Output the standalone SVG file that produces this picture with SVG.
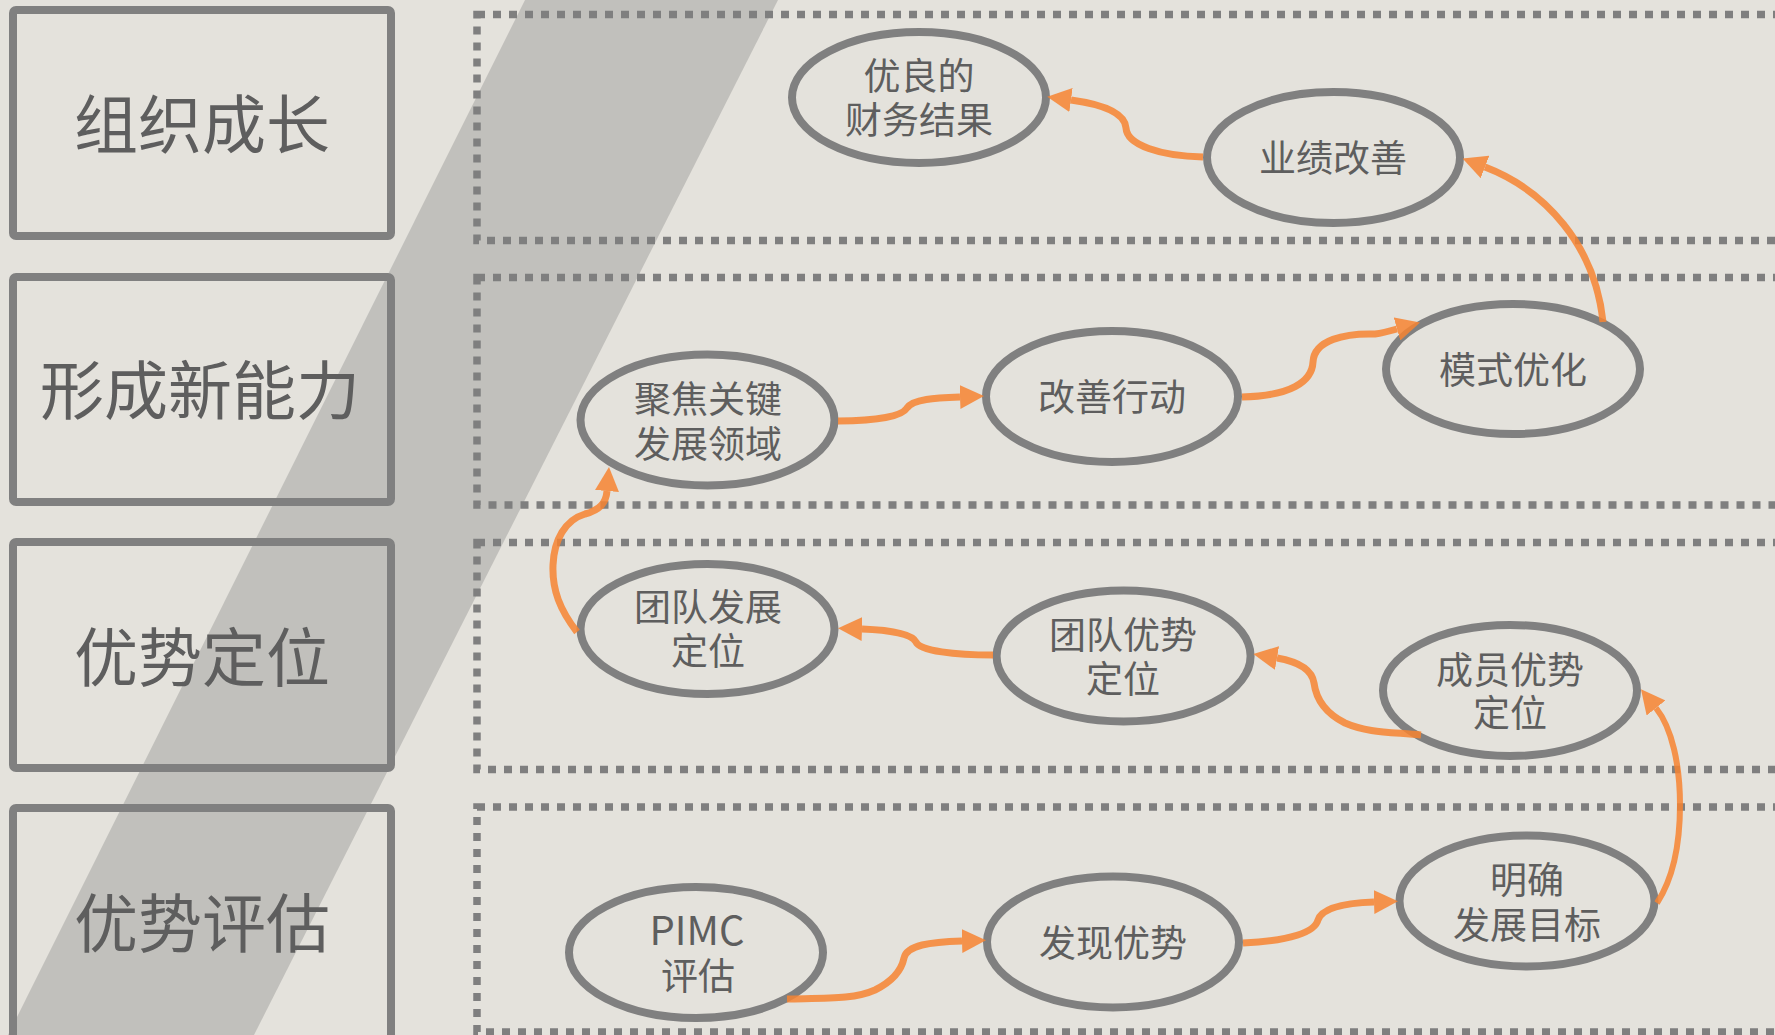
<svg xmlns="http://www.w3.org/2000/svg" width="1775" height="1035" viewBox="0 0 1775 1035">
<defs>
<style>
.box{fill:none;stroke:#808080;stroke-width:8}
.lane{fill:none;stroke:#7f7f7f;stroke-width:7.5;stroke-dasharray:8 8}
.node{fill:none;stroke:#808080;stroke-width:8}
.big{font-family:"Noto Sans CJK SC","Microsoft YaHei",sans-serif;font-size:64px;fill:#5e5e5e;text-anchor:middle}
.lbl{font-family:"Noto Sans CJK SC","Microsoft YaHei",sans-serif;font-size:37px;fill:#5e5e5e;text-anchor:middle}
.lat{font-family:"Noto Sans CJK SC","Liberation Sans",sans-serif;font-size:40px;fill:#5e5e5e;text-anchor:middle}
.con{fill:none;stroke:#f78431;stroke-opacity:0.85;stroke-width:7;marker-end:url(#ah)}
</style>
<marker id="ah" markerUnits="userSpaceOnUse" markerWidth="24" markerHeight="24" viewBox="0 0 24 24" refX="0" refY="12" orient="auto">
<path d="M0,0 L24,12 L0,24 Z" fill="#f78431" fill-opacity="0.85"/>
</marker>
</defs>
<rect width="1775" height="1035" fill="#e4e2dc"/>
<polygon points="525,0 778,0 254,1035 8,1035" fill="#c1c0bc"/>

<g id="lanes">
<rect class="lane" x="477" y="14.5" width="1400" height="226"/>
<rect class="lane" x="477" y="277.5" width="1400" height="227.5"/>
<rect class="lane" x="477" y="542.5" width="1400" height="227"/>
<rect class="lane" x="477" y="807" width="1400" height="225"/>
</g>

<g id="stage1"><rect class="box" x="13" y="10" width="378" height="226" rx="3"/><text class="big" x="202" y="148">组织成长</text></g>
<g id="stage2"><rect class="box" x="13" y="277" width="378" height="225" rx="3"/><text class="big" x="200" y="414">形成新能力</text></g>
<g id="stage3"><rect class="box" x="13" y="542" width="378" height="226" rx="3"/><text class="big" x="202" y="681">优势定位</text></g>
<g id="stage4"><rect class="box" x="13" y="808" width="378" height="240" rx="3"/><text class="big" x="202" y="947">优势评估</text></g>

<g id="n-finance"><ellipse class="node" cx="919" cy="97.5" rx="127" ry="65.5"/><text class="lbl" x="919" y="90">优良的</text><text class="lbl" x="919" y="134">财务结果</text></g>
<g id="n-perf"><ellipse class="node" cx="1333.5" cy="157.5" rx="126.5" ry="65.5"/><text class="lbl" x="1333" y="171.5">业绩改善</text></g>
<g id="n-focus"><ellipse class="node" cx="707.5" cy="420" rx="127" ry="65.5"/><text class="lbl" x="708" y="412.5">聚焦关键</text><text class="lbl" x="708" y="457.5">发展领域</text></g>
<g id="n-action"><ellipse class="node" cx="1112" cy="396.5" rx="126" ry="65.5"/><text class="lbl" x="1112" y="410.5">改善行动</text></g>
<g id="n-model"><ellipse class="node" cx="1513" cy="369" rx="127" ry="65"/><text class="lbl" x="1513" y="384">模式优化</text></g>
<g id="n-teamdev"><ellipse class="node" cx="707.5" cy="629" rx="127" ry="65"/><text class="lbl" x="708" y="620.5">团队发展</text><text class="lbl" x="708" y="665">定位</text></g>
<g id="n-teamadv"><ellipse class="node" cx="1123.6" cy="656" rx="127" ry="65.5"/><text class="lbl" x="1123" y="648.5">团队优势</text><text class="lbl" x="1123" y="692.5">定位</text></g>
<g id="n-member"><ellipse class="node" cx="1510" cy="690.5" rx="127" ry="65.5"/><text class="lbl" x="1510" y="684">成员优势</text><text class="lbl" x="1510" y="726.5">定位</text></g>
<g id="n-pimc"><ellipse class="node" cx="696" cy="952.5" rx="127" ry="65.5"/><text class="lat" x="697" y="945">PIMC</text><text class="lbl" x="698" y="990">评估</text></g>
<g id="n-discover"><ellipse class="node" cx="1113" cy="942" rx="126" ry="65.5"/><text class="lbl" x="1113" y="956.5">发现优势</text></g>
<g id="n-goal"><ellipse class="node" cx="1527" cy="901" rx="127.5" ry="65.5"/><text class="lbl" x="1527" y="894">明确</text><text class="lbl" x="1527" y="938.5">发展目标</text></g>

<g id="connectors">
<path class="con" d="M1203,157 C1160,156 1127,145 1126,128 C1125,112 1100,104 1071,100"/>
<path class="con" d="M1603,322 C1595,245 1545,190 1485,167"/>
<path class="con" d="M838,421 C878,421 902,416 907,408 C913,399 935,398 960,397"/>
<path class="con" d="M1242,397 C1290,396 1312,382 1313,362 C1314,340 1345,333 1375,334 C1383,333 1390,331 1397,329"/>
<path class="con" d="M577,632 C560,610 552,590 553,565 C554,540 565,520 585,514 C600,510 606,503 607,491"/>
<path class="con" d="M993,655 C955,655 920,651 916,642 C912,634 890,630 862,629"/>
<path class="con" d="M1421,735 C1390,732 1368,733 1345,723 C1325,713 1316,698 1314,683 C1312,670 1300,662 1277,658"/>
<path class="con" d="M1657,903 C1672,880 1680,850 1680,805 C1680,765 1672,728 1656,708" style="stroke-width:6"/>
<path class="con" d="M787,999 C830,998 855,999 875,990 C895,980 902,968 904,958 C907,945 930,942 962,941"/>
<path class="con" d="M1243,943 C1290,941 1315,932 1318,920 C1322,908 1345,903 1374,902"/>
</g>
</svg>
